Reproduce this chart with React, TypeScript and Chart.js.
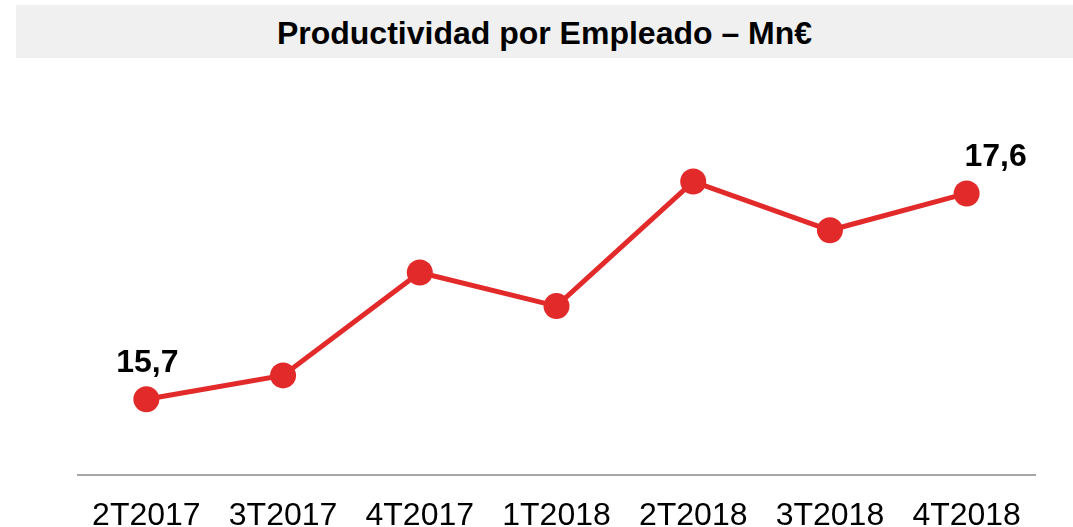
import React, { useEffect, useRef } from "react";
import { Chart, registerables } from "chart.js";

Chart.register(...registerables);

const categories = ["2T2017", "3T2017", "4T2017", "1T2018", "2T2018", "3T2018", "4T2018"];
const productividad = [15.7, 15.92, 16.87, 16.56, 17.71, 17.26, 17.6];
const labelledPoints = [0, 6];
const titleText = "Productividad por Empleado – Mn€";

const RED = "#E32A2A";
const FONT = "'Liberation Sans', Arial, sans-serif";

const fmt = (v: number) => v.toFixed(1).replace(".", ",");

const valueLabels = {
  id: "valueLabels",
  afterDatasetsDraw(chart: any) {
    const meta = chart.getDatasetMeta(0);
    const ctx = chart.ctx;
    ctx.save();
    ctx.font = `bold 32px ${FONT}`;
    ctx.fillStyle = "#000";
    ctx.textAlign = "center";
    ctx.textBaseline = "middle";
    labelledPoints.forEach((i) => {
      const el = meta.data[i];
      const dx = i === categories.length - 1 ? 29 : 1;
      ctx.fillText(fmt(productividad[i]), el.x + dx, el.y - 36);
    });
    ctx.restore();
  },
};

export default function App() {
  const ref = useRef<HTMLCanvasElement>(null);
  useEffect(() => {
    if (!ref.current) return;
    const chart = new Chart(ref.current, {
      type: "line",
      data: {
        labels: categories,
        datasets: [
          {
            data: productividad,
            borderColor: RED,
            backgroundColor: RED,
            borderWidth: 5,
            pointRadius: 13,
            pointHoverRadius: 13,
            pointBackgroundColor: RED,
            pointBorderWidth: 0,
            tension: 0,
            clip: false as any,
          },
        ],
      },
      options: {
        responsive: false,
        animation: false,
        layout: { padding: { left: 78, right: 38, top: 96, bottom: 8.6 } },
        plugins: { legend: { display: false }, tooltip: { enabled: false }, title: { display: false } },
        scales: {
          x: {
            offset: true,
            grid: { display: false, drawTicks: false },
            border: { display: true, color: "#a6a6a6", width: 2 },
            ticks: { color: "#000", font: { family: FONT, size: 32 }, padding: 22, maxRotation: 0 },
          },
          y: { display: false, min: 15, max: 18.5 },
        },
      },
      plugins: [valueLabels],
    });
    return () => chart.destroy();
  }, []);

  return (
    <div style={{ position: "fixed", left: 0, top: 0, width: 1073, height: 527, overflow: "hidden", background: "#fff" }}>
      <div
        style={{
          position: "absolute",
          left: 16,
          top: 5,
          width: 1057,
          height: 53,
          background: "#f0f0f0",
          display: "flex",
          alignItems: "center",
          justifyContent: "center",
          fontFamily: FONT,
          fontWeight: "bold",
          fontSize: 32,
          color: "#000",
          paddingTop: 3,
          boxSizing: "border-box",
        }}
      >
        {titleText}
      </div>
      <canvas ref={ref} width={1073} height={566} style={{ position: "absolute", left: 0, top: 0 }} />
    </div>
  );
}
